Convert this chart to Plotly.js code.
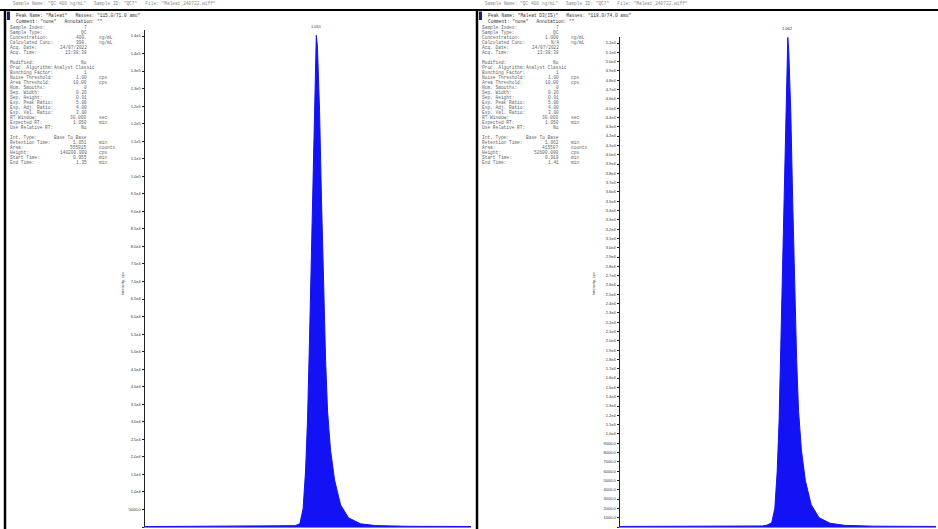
<!DOCTYPE html>
<html>
<head>
<meta charset="utf-8">
<script src="https://cdn.plot.ly/plotly-3.0.1.min.js"></script>
<style>
  html, body { margin: 0; padding: 0; background: #fff; }
  #chart { width: 938px; height: 529px; }
</style>
</head>
<body>
<div id="chart"></div>
<script>
// ---- Chromatogram data: time (min) vs intensity (cps) ----
const analyteTime = [0.00, 0.10, 0.20, 0.30, 0.40, 0.50, 0.60, 0.70, 0.80, 0.88, 0.92, 0.95, 0.97, 0.985, 0.997, 1.009, 1.022, 1.034, 1.046, 1.051, 1.058, 1.071, 1.083, 1.095, 1.108, 1.120, 1.138, 1.163, 1.200, 1.249, 1.323, 1.415, 1.50, 1.60, 1.70, 1.80, 1.90, 2.00];
const analyteIntensity = [120, 150, 110, 160, 130, 140, 170, 150, 190, 220, 380, 900, 5200, 16000, 30500, 53000, 79000, 107000, 130000, 140200, 137000, 118500, 93000, 67500, 47500, 33000, 22000, 13400, 6300, 2600, 900, 400, 260, 210, 180, 170, 160, 150];

const isTime = [0.00, 0.10, 0.20, 0.30, 0.40, 0.50, 0.60, 0.70, 0.80, 0.90, 0.93, 0.96, 0.98, 0.995, 1.007, 1.019, 1.031, 1.043, 1.055, 1.062, 1.068, 1.081, 1.093, 1.105, 1.118, 1.130, 1.148, 1.173, 1.210, 1.260, 1.330, 1.420, 1.50, 1.60, 1.70, 1.80, 1.90, 2.00];
const isIntensity = [60, 70, 55, 65, 60, 70, 75, 70, 90, 110, 200, 450, 2000, 6000, 11500, 20000, 29500, 40000, 48500, 52600, 51200, 44500, 35000, 25500, 18000, 12500, 8300, 5000, 2400, 1000, 400, 180, 110, 90, 80, 70, 65, 60];

// ---- Y tick labels (instrument style, 2 significant figures) ----
const analyteTickText = ['0.0','5000.0','1.0e4','1.5e4','2.0e4','2.5e4','3.0e4','3.5e4','4.0e4','4.5e4','5.0e4','5.5e4','6.0e4','6.5e4','7.0e4','7.5e4','8.0e4','8.5e4','9.0e4','9.5e4','1.0e5','1.1e5','1.1e5','1.2e5','1.2e5','1.3e5','1.3e5','1.4e5','1.4e5'];
const analyteTickStep = 5000;
const isTickText = ['0.0','1000.0','2000.0','3000.0','4000.0','5000.0','6000.0','7000.0','8000.0','9000.0',
  '1.0e4','1.1e4','1.2e4','1.3e4','1.4e4','1.5e4','1.6e4','1.7e4','1.8e4','1.9e4',
  '2.0e4','2.1e4','2.2e4','2.3e4','2.4e4','2.5e4','2.6e4','2.7e4','2.8e4','2.9e4',
  '3.0e4','3.1e4','3.2e4','3.3e4','3.4e4','3.5e4','3.6e4','3.7e4','3.8e4','3.9e4',
  '4.0e4','4.1e4','4.2e4','4.3e4','4.4e4','4.5e4','4.6e4','4.7e4','4.8e4','4.9e4',
  '5.0e4','5.1e4','5.2e4'];
const isTickStep = 1000;

// ---- Peak report text ----
const analyteHeader = 'Sample Name: "QC 400 ng/mL"   Sample ID: "QC7"   File: "Maleat_240722.wiff"';
const analytePeak = 'Peak Name: "Maleat"   Masses: "115.0/71.0 amu"';
const isHeader = 'Sample Name: "QC 400 ng/mL"   Sample ID: "QC7"   File: "Maleat_240722.wiff"';
const isPeak = 'Peak Name: "Maleat D3(IS)"   Masses: "118.0/74.0 amu"';
const commentLine = 'Comment: "none"   Annotation: ""';

const BLUE = 'rgb(18,18,245)';
const W = 938, H = 529;
const px = x => x / W;
const py = y => 1 - y / H;

function apex(t, v) {
  let k = 0;
  v.forEach((val, i) => { if (val > v[k]) k = i; });
  return { t: t[k], v: v[k] };
}

// rows: [label, value, unit, valueStartsAfterLabel]
function reportRows(time, inten, conc, calc, area, start, end) {
  const a = apex(time, inten);
  return [
    ['Sample Index:', '7', ''],
    ['Sample Type:', 'QC', ''],
    ['Concentration:', conc, 'ng/mL'],
    ['Calculated Conc:', calc, 'ng/mL'],
    ['Acq. Date:', '24/07/2022', ''],
    ['Acq. Time:', '13:38:38', ''],
    null,
    ['Modified:', 'No', ''],
    ['Proc. Algorithm:', 'Analyst Classic', '', true],
    ['Bunching Factor:', '1', ''],
    ['Noise Threshold:', '1.00', 'cps'],
    ['Area Threshold:', '10.00', 'cps'],
    ['Num. Smooths:', '0', ''],
    ['Sep. Width:', '0.20', ''],
    ['Sep. Height:', '0.01', ''],
    ['Exp. Peak Ratio:', '5.00', ''],
    ['Exp. Adj. Ratio:', '4.00', ''],
    ['Exp. Val. Ratio:', '3.00', ''],
    ['RT Window:', '30.000', 'sec'],
    ['Expected RT:', '1.050', 'min'],
    ['Use Relative RT:', 'No', ''],
    null,
    ['Int. Type:', 'Base To Base', ''],
    ['Retention Time:', a.t.toFixed(3), 'min'],
    ['Area:', area, 'counts'],
    ['Height:', a.v.toFixed(3), 'cps'],
    ['Start Time:', start, 'min'],
    ['End Time:', end, 'min']
  ];
}

const annotations = [];
const shapes = [];
const mono = 'Liberation Mono, DejaVu Sans Mono, monospace';

function addPanel(left, header, peak, rows, time, inten, xref, yref, yTitleX) {
  annotations.push({ xref: 'paper', yref: 'paper', x: px(left + 6), y: py(4), xanchor: 'left', yanchor: 'middle',
    text: header, showarrow: false, font: { family: mono, size: 4.5, color: '#888' } });
  annotations.push({ xref: 'paper', yref: 'paper', x: px(left + 9), y: py(16), xanchor: 'left', yanchor: 'middle',
    text: peak, showarrow: false, font: { family: mono, size: 4.5, color: '#333' } });
  annotations.push({ xref: 'paper', yref: 'paper', x: px(left + 9), y: py(21), xanchor: 'left', yanchor: 'middle',
    text: commentLine, showarrow: false, font: { family: mono, size: 4.5, color: '#333' } });
  rows.forEach((r, i) => {
    if (!r) return;
    const y = py(27.5 + i * 5);
    const f = { family: mono, size: 4.5, color: '#666' };
    annotations.push({ xref: 'paper', yref: 'paper', x: px(left + 3), y, xanchor: 'left', yanchor: 'middle', text: r[0], showarrow: false, font: f });
    if (r[3]) {
      annotations.push({ xref: 'paper', yref: 'paper', x: px(left + 47), y, xanchor: 'left', yanchor: 'middle', text: r[1], showarrow: false, font: f });
    } else {
      annotations.push({ xref: 'paper', yref: 'paper', x: px(left + 84), y, xanchor: 'right', yanchor: 'middle', text: r[1], showarrow: false, font: f });
    }
    if (r[2]) annotations.push({ xref: 'paper', yref: 'paper', x: px(left + 92), y, xanchor: 'left', yanchor: 'middle', text: r[2], showarrow: false, font: f });
  });
  // apex retention-time label
  const a = apex(time, inten);
  annotations.push({ xref: xref, yref: yref, x: a.t, y: a.v, yshift: 4, xanchor: 'center', yanchor: 'bottom',
    text: a.t.toFixed(3), showarrow: false, font: { family: 'Liberation Sans, Arial', size: 4, color: '#333' } });
  // y axis title
  annotations.push({ xref: 'paper', yref: 'paper', x: px(yTitleX), y: py(284), xanchor: 'center', yanchor: 'middle',
    text: 'Intensity, cps', textangle: -90, showarrow: false, font: { family: 'Liberation Sans, Arial', size: 4, color: '#444' } });
  // report frame: left rule and peak marker
  shapes.push({ type: 'line', xref: 'paper', yref: 'paper', x0: px(left), x1: px(left), y0: py(10), y1: 0,
    line: { color: '#000', width: 2.5 } });
  shapes.push({ type: 'rect', xref: 'paper', yref: 'paper', x0: px(left + 2), x1: px(left + 5), y0: py(11.5), y1: py(20),
    fillcolor: '#1a1a90', line: { width: 0 } });
}

addPanel(5, analyteHeader, analytePeak,
  reportRows(analyteTime, analyteIntensity, '400.', '398.', '555915', '0.955', '1.35'),
  analyteTime, analyteIntensity, 'x', 'y', 122);
addPanel(477, isHeader, isPeak,
  reportRows(isTime, isIntensity, '1.000', 'N/A', '415587', '0.919', '1.41'),
  isTime, isIntensity, 'x2', 'y2', 593);

// top rule across the page
shapes.push({ type: 'line', xref: 'paper', yref: 'paper', x0: 0, x1: 1, y0: py(10), y1: py(10),
  line: { color: '#000', width: 2 } });

const traces = [
  { x: analyteTime, y: analyteIntensity, type: 'scatter', mode: 'lines', fill: 'tozeroy',
    line: { color: BLUE, width: 1 }, fillcolor: BLUE, xaxis: 'x', yaxis: 'y', hoverinfo: 'skip' },
  { x: isTime, y: isIntensity, type: 'scatter', mode: 'lines', fill: 'tozeroy',
    line: { color: BLUE, width: 1 }, fillcolor: BLUE, xaxis: 'x2', yaxis: 'y2', hoverinfo: 'skip' }
];

const tickFont = { family: 'Liberation Sans, Arial', size: 4, color: '#333' };
const xCommon = { range: [0, 2], showgrid: false, zeroline: false, showline: true, linecolor: '#8088a8', linewidth: 1,
  ticks: '', showticklabels: false, automargin: false, fixedrange: true };
const yCommon = { showgrid: false, zeroline: false, showline: true, linecolor: '#222', linewidth: 1.5,
  ticks: 'outside', ticklen: 2, tickwidth: 1, tickcolor: '#222', tickfont: tickFont, tickmode: 'array',
  automargin: false, fixedrange: true };

const layout = {
  width: W, height: H,
  margin: { l: 0, r: 0, t: 0, b: 0 },
  paper_bgcolor: '#fff', plot_bgcolor: '#fff',
  showlegend: false,
  xaxis: Object.assign({}, xCommon, { domain: [px(145), px(471)], anchor: 'y' }),
  yaxis: Object.assign({}, yCommon, { domain: [2 / H, py(30)], anchor: 'x', range: [0, 141711],
    tickvals: analyteTickText.map((_, i) => i * analyteTickStep), ticktext: analyteTickText }),
  xaxis2: Object.assign({}, xCommon, { domain: [px(620), px(936)], anchor: 'y2' }),
  yaxis2: Object.assign({}, yCommon, { domain: [2 / H, py(37)], anchor: 'x2', range: [0, 52645],
    tickvals: isTickText.map((_, i) => i * isTickStep), ticktext: isTickText }),
  annotations: annotations,
  shapes: shapes
};

Plotly.newPlot('chart', traces, layout, { staticPlot: true, displayModeBar: false });
</script>
</body>
</html>
